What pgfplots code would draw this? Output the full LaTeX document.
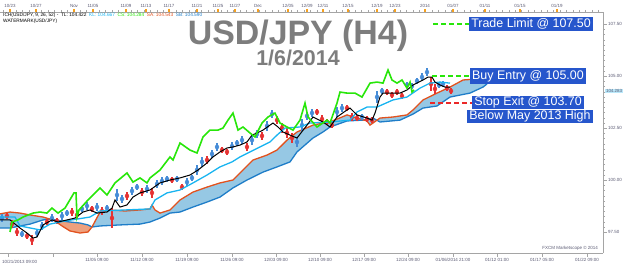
\documentclass[border=0pt]{standalone}
\usepackage{pgfplots}
\pgfplotsset{compat=1.18}
\usepackage{fontspec}
\setmainfont{Liberation Sans}
\definecolor{cloudblue}{RGB}{150,200,228}
\definecolor{cloudorange}{RGB}{238,160,125}
\definecolor{spanA}{RGB}{226,82,30}
\definecolor{spanB}{RGB}{30,125,200}
\definecolor{kijun}{RGB}{25,180,240}
\definecolor{chikou}{RGB}{40,230,10}
\definecolor{candleup}{RGB}{70,140,215}
\definecolor{candledn}{RGB}{230,50,50}
\definecolor{boxblue}{RGB}{38,86,204}
\definecolor{axgray}{RGB}{165,165,165}
\definecolor{labgray}{RGB}{90,90,115}
\definecolor{titlegray}{RGB}{125,125,125}
\definecolor{tickorange}{RGB}{245,160,30}
\definecolor{stopred}{RGB}{235,40,40}
\newcommand{\tinyf}{\fontsize{4.5}{5}\selectfont}
\newcommand{\boxf}{\fontsize{12.5}{14}\selectfont}
\begin{document}
\begin{tikzpicture}
\useasboundingbox (0bp,0bp) rectangle (624bp,266bp);
% top date axis
\begin{axis}[at={(0bp,13bp)}, anchor=south west, scale only axis, width=603bp, height=241bp,
  xmin=0, xmax=603, ymin=0, ymax=1,
  axis x line*=top, axis y line=none, axis line style={axgray},
  xtick={10,36,74,93,126,146,169,197,218,235,258,288,307,323,348,377,395,425,453,485,520,557},
  xticklabels={10/23,10/27,Nov,11/05,11/09,11/13,11/17,11/21,11/25,11/27,Dec,12/05,12/09,12/11,12/15,12/19,12/23,2014,01/07,01/11,01/15,01/19},
  minor xtick={3,9.4,...,603},
  tick align=outside, major tick length=3bp, minor tick length=2bp,
  major tick style={tickorange, line width=1.4bp}, minor tick style={axgray},
  x tick label style={font=\tinyf, text=labgray, inner sep=1bp}]
\addplot[draw=none] coordinates {(0,0)};
\end{axis}
% main axis
\begin{axis}[at={(0bp,13bp)}, anchor=south west, scale only axis, width=603bp, height=241bp,
  xmin=0, xmax=603, ymin=96.49, ymax=108.08, clip mode=individual,
  axis x line*=bottom, axis y line*=right, axis line style={axgray},
  xtick={8,53,97,142,187,232,276,320,364,408,453,497,542,587},
  xticklabels={{},{},11/05 09:00,11/12 09:00,11/19 09:00,11/26 09:00,12/03 09:00,12/10 09:00,12/17 09:00,12/24 09:00,01/06/2014 21:00,01/12 01:00,01/17 05:00,01/22 09:00},
  minor x tick num=6,
  ytick={97.5,100,102.5,105,107.5}, minor y tick num=9,
  tick align=outside, major tick length=4bp, minor tick length=2bp,
  tick style={axgray},
  x tick label style={font=\tinyf, text=labgray, inner sep=1bp},
  y tick label style={font=\tinyf, text=labgray, inner sep=1bp,
    /pgf/number format/fixed, /pgf/number format/fixed zerofill,
    /pgf/number format/precision=2, /pgf/number format/assume math mode=true}]
% cloud fills
\addplot[fill=cloudblue, draw=none] coordinates {(0,98.37)(10,98.46)(20,98.41)(30,98.32)(43,98.22)(50,98.12)(43,98.08)(30,97.88)(20,97.79)(10,97.69)(0,97.69)} -- cycle;
\addplot[fill=cloudorange, draw=none] coordinates {(50,98.12)(62,98.03)(70,97.98)(80,97.93)(88,97.84)(92,97.74)(88,97.50)(80,97.45)(70,97.55)(62,97.79)(55,98.03)(50,98.12)} -- cycle;
\addplot[fill=cloudblue, draw=none] coordinates {(92,97.74)(100,98.46)(110,98.56)(125,98.51)(140,98.56)(150,98.61)(152,98.80)(155,98.56)(160,98.41)(170,98.56)(180,99.04)(193,99.42)(207,99.66)(220,99.86)(233,100.00)(240,100.34)(253,100.96)(267,101.20)(277,101.44)(287,101.92)(297,102.31)(313,102.64)(323,102.74)(330,102.79)(347,103.13)(357,102.98)(367,102.84)(370,102.64)(380,102.98)(393,103.03)(407,103.13)(413,103.37)(423,103.85)(437,104.18)(450,104.47)(463,104.81)(477,104.86)(487,104.71)
(487,104.62)(483,104.47)(470,104.18)(450,103.99)(437,103.56)(423,103.46)(413,103.17)(400,102.88)(380,102.79)(373,102.98)(363,102.88)(347,102.84)(330,102.55)(323,102.31)(313,102.02)(297,101.35)(290,100.87)(277,100.63)(263,100.38)(247,100.00)(233,99.62)(220,99.18)(207,98.94)(193,98.70)(180,98.46)(170,98.41)(160,98.17)(150,97.98)(140,97.88)(120,97.84)(100,97.79)(92,97.74)} -- cycle;
% senkou span B
\addplot[spanB, line width=1.3bp] coordinates {(0,97.69)(10,97.69)(20,97.79)(30,97.88)(43,98.08)(50,98.12)(62,98.03)(70,97.98)(80,97.93)(88,97.84)(92,97.74)(100,97.79)(120,97.84)(140,97.88)(150,97.98)(160,98.17)(170,98.41)(180,98.46)(193,98.70)(207,98.94)(220,99.18)(233,99.62)(247,100.00)(263,100.38)(277,100.63)(290,100.87)(297,101.35)(313,102.02)(323,102.31)(330,102.55)(347,102.84)(363,102.88)(373,102.98)(380,102.79)(400,102.88)(413,103.17)(423,103.46)(437,103.56)(450,103.99)(470,104.18)(483,104.47)(487,104.62)};
% senkou span A
\addplot[spanA, line width=1.3bp] coordinates {(0,98.37)(10,98.46)(20,98.41)(30,98.32)(43,98.22)(50,98.12)(55,98.03)(62,97.79)(70,97.55)(80,97.45)(88,97.50)(92,97.74)(100,98.46)(110,98.56)(125,98.51)(140,98.56)(150,98.61)(152,98.80)(155,98.56)(160,98.41)(170,98.56)(180,99.04)(193,99.42)(207,99.66)(220,99.86)(233,100.00)(240,100.34)(253,100.96)(267,101.20)(277,101.44)(287,101.92)(297,102.31)(313,102.64)(323,102.74)(330,102.79)(347,103.13)(357,102.98)(367,102.84)(370,102.64)(380,102.98)(393,103.03)(407,103.13)(413,103.37)(423,103.85)(437,104.18)(450,104.47)(463,104.81)(477,104.86)(487,104.71)};
% candles up
\addplot[candleup, only marks, mark=none, error bars/.cd, y dir=both, y explicit, error mark=none, error bar style={line width=1.5bp}] table[x=x, y=y, y error=e] {
x y e
2 98.17 0.19
22 97.40 0.14
37 97.45 0.19
42 97.79 0.19
52 98.17 0.19
62 98.27 0.19
67 98.41 0.14
82 98.61 0.14
87 98.75 0.19
97 98.70 0.19
107 98.65 0.14
117 99.28 0.29
122 99.09 0.19
132 99.47 0.19
137 99.66 0.14
147 99.57 0.19
157 99.81 0.19
162 99.95 0.19
167 100.05 0.14
177 100.05 0.14
187 99.90 0.19
192 100.10 0.14
197 100.48 0.24
202 100.87 0.24
212 101.25 0.19
217 101.59 0.19
232 101.63 0.19
237 101.78 0.14
242 101.92 0.19
252 101.92 0.24
257 102.21 0.19
267 102.60 0.24
272 103.17 0.19
297 101.83 0.24
302 102.64 0.29
307 103.08 0.19
312 103.22 0.19
337 103.27 0.24
342 103.46 0.19
362 103.03 0.14
377 103.99 0.29
382 104.28 0.14
407 104.57 0.14
412 104.52 0.14
417 104.76 0.14
422 104.95 0.19
427 105.19 0.19
439 104.57 0.14
443 104.62 0.14
};
% candles down
\addplot[candledn, only marks, mark=none, error bars/.cd, y dir=both, y explicit, error mark=none, error bar style={line width=1.5bp}] table[x=x, y=y, y error=e] {
x y e
7 98.27 0.14
12 97.88 0.19
17 97.50 0.19
27 97.31 0.14
32 97.12 0.24
47 97.98 0.14
57 98.03 0.14
72 98.46 0.19
77 98.32 0.19
92 98.61 0.14
102 98.51 0.19
112 98.17 0.48
127 99.23 0.19
142 99.42 0.19
152 99.38 0.24
172 100.00 0.14
182 99.66 0.14
207 100.96 0.19
222 101.44 0.14
227 101.35 0.14
247 101.59 0.19
262 102.12 0.19
277 102.88 0.19
282 102.50 0.24
287 102.26 0.24
292 102.02 0.24
317 103.27 0.14
322 102.93 0.19
327 102.79 0.14
332 102.64 0.14
347 103.46 0.14
352 103.03 0.19
357 102.98 0.14
367 102.93 0.14
372 102.88 0.14
387 104.23 0.14
392 104.09 0.14
397 104.23 0.14
402 104.04 0.14
431 104.62 0.34
435 104.38 0.24
447 104.42 0.14
451 104.28 0.14
};
% kijun
\addplot[kijun, line width=1.3bp] coordinates {(0,98.22)(15,98.22)(20,97.79)(40,97.60)(50,97.88)(65,98.03)(90,98.22)(100,98.51)(150,98.61)(155,99.04)(167,99.38)(180,99.52)(193,99.86)(207,100.24)(220,100.63)(232,100.87)(240,101.11)(250,101.35)(260,101.59)(270,101.83)(277,102.16)(285,102.50)(300,102.55)(310,102.74)(330,102.79)(350,102.88)(357,103.27)(367,103.51)(377,103.51)(393,103.85)(407,103.99)(420,104.42)(430,104.66)(440,104.71)(450,104.66)};
% tenkan
\addplot[black, line width=1bp] coordinates {(0,98.08)(10,98.08)(20,97.69)(27,97.45)(33,97.21)(37,97.26)(43,97.84)(52,98.08)(58,97.98)(67,98.08)(75,98.17)(83,98.46)(90,98.56)(97,98.41)(107,98.46)(112,98.65)(115,99.04)(120,98.70)(127,98.80)(133,99.18)(140,99.38)(150,99.52)(160,99.86)(170,100.00)(180,100.10)(190,100.24)(198,100.48)(207,100.82)(213,101.11)(220,101.35)(227,101.54)(233,101.59)(240,101.68)(247,101.83)(252,102.16)(257,102.26)(263,102.40)(270,102.64)(273,102.74)(278,102.55)(283,102.31)(290,102.16)(297,102.02)(307,102.64)(313,103.03)(323,102.79)(330,102.55)(337,103.03)(347,103.37)(350,103.46)(357,103.13)(367,102.98)(372,102.88)(375,103.22)(380,103.99)(383,104.18)(390,104.18)(400,104.18)(407,104.33)(413,104.57)(423,104.81)(428,104.95)(432,104.95)(435,104.71)(440,104.57)(445,104.47)(450,104.47)};
% chikou
\addplot[chikou, line width=1.6bp] coordinates {(10,97.50)(12,97.98)(18,98.08)(23,98.22)(33,98.41)(40,98.46)(47,98.41)(52,98.65)(58,98.41)(65,98.65)(74,99.38)(76,99.38)(77,98.22)(79,98.56)(88,99.04)(100,99.62)(107,99.28)(115,99.86)(127,100.34)(133,99.90)(140,100.10)(147,99.86)(150,100.10)(160,100.48)(170,101.11)(173,100.96)(180,101.78)(190,101.44)(197,101.30)(203,102.07)(210,102.40)(218,102.40)(223,102.50)(228,102.88)(233,103.22)(238,102.40)(243,102.55)(250,102.26)(255,102.07)(262,102.74)(268,103.03)(275,103.22)(280,102.74)(287,102.55)(293,102.40)(300,102.88)(305,103.70)(308,103.03)(317,102.55)(327,102.88)(330,102.74)(337,103.70)(340,104.23)(347,104.18)(355,104.18)(362,103.99)(370,104.66)(377,104.71)(383,104.66)(388,105.29)(392,104.81)(397,104.66)(402,104.81)(407,104.42)(410,104.71)(412,104.23)(414,104.33)};
% trade levels
\addplot[chikou, line width=1.5bp, dash pattern=on 5bp off 3bp] coordinates {(433,107.5)(470,107.5)};
\addplot[chikou, line width=1.5bp, dash pattern=on 5bp off 3bp] coordinates {(432,105.0)(471,105.0)};
\addplot[stopred, line width=1.5bp, dash pattern=on 5bp off 3bp] coordinates {(430,103.70)(472,103.70)};
% annotation boxes
\node[fill=boxblue, text=white, font=\boxf, inner xsep=2bp, inner ysep=2bp] at (axis cs:531,107.5) {Trade Limit @ 107.50};
\node[fill=boxblue, text=white, font=\boxf, inner xsep=2bp, inner ysep=2bp] at (axis cs:528,105.0) {Buy Entry @ 105.00};
\node[fill=boxblue, text=white, font=\boxf, inner xsep=2bp, inner ysep=1bp] at (axis cs:528,103.72) {Stop Exit @ 103.70};
\node[fill=boxblue, text=white, font=\boxf, inner xsep=2bp, inner ysep=1bp] at (axis cs:530,103.05) {Below May 2013 High};
% last price marker
\node[fill=kijun!30, text=labgray, font=\tinyf, inner sep=0.8bp, anchor=west] at (axis cs:605,104.28) {104.283};
\node[text=labgray, font=\tinyf, anchor=east, inner sep=0pt] at (axis cs:598,96.73) {FXCM Marketscope \textcopyright{} 2014};
\end{axis}
% first bottom label
\node[text=labgray, font=\tinyf, anchor=west, inner sep=0pt] at (2bp,4.5bp) {10/21/2013 09:00};
% info text
\node[anchor=base west, font=\fontsize{4.8}{5.5}\selectfont, inner sep=0pt] at (3bp,249bp) {ICH(USD/JPY, 9, 26, 52) -\ \ TL: 104.422\ \ \textcolor{kijun}{KL: 104.667}\ \ \textcolor{chikou}{CS: 104.284}\ \ \textcolor{spanA}{SA: 104.543}\ \ \textcolor{spanB}{SB: 104.590}};
\node[anchor=base west, font=\fontsize{4.8}{5.5}\selectfont, inner sep=0pt] at (3bp,243bp) {WATERMARK(USD/JPY)};
% titles
\node[anchor=base, font=\fontsize{34}{38}\selectfont\bfseries, text=titlegray, inner sep=0pt] at (298bp,221bp) {USD/JPY (H4)};
\node[anchor=base, font=\fontsize{21.5}{24}\selectfont\bfseries, text=titlegray, inner sep=0pt] at (298bp,200.5bp) {1/6/2014};
\end{tikzpicture}
\end{document}
